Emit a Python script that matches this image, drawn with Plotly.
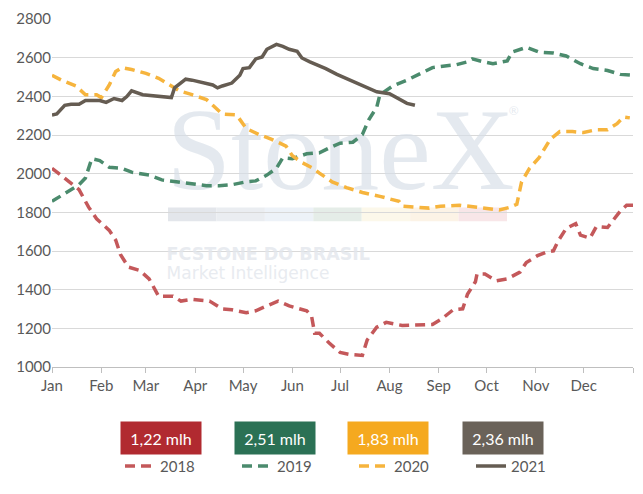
import pandas as pd
import plotly.graph_objects as go

# dias a partir de 1 de janeiro / valores
dias_2018 = [0, 9, 17, 21, 23, 28, 36, 40, 43, 48, 55, 61, 67, 76, 81, 88, 99, 107, 113, 122, 128, 135,
             142, 149, 160, 163, 165, 168, 174, 181, 187, 195, 198, 204, 210, 220, 231, 239, 245, 252,
             258, 261, 266, 267, 272, 279, 286, 294, 298, 305, 311, 315, 318, 323, 329, 332, 338, 342,
             349, 352, 357, 361, 365]
val_2018 = [2028, 1968, 1918, 1857, 1827, 1767, 1707, 1657, 1582, 1517, 1500, 1456, 1366, 1366, 1341,
            1350, 1341, 1300, 1296, 1281, 1291, 1316, 1341, 1316, 1291, 1266, 1175, 1175, 1125, 1075,
            1065, 1060, 1140, 1206, 1231, 1215, 1220, 1220, 1250, 1296, 1301, 1376, 1441, 1481, 1481,
            1446, 1456, 1491, 1541, 1576, 1596, 1601, 1652, 1717, 1742, 1682, 1667, 1727, 1722, 1752,
            1807, 1837, 1837]

dias_2019 = [0, 9, 17, 21, 25, 30, 36, 44, 50, 61, 69, 78, 88, 97, 105, 113, 122, 128, 135, 141, 145,
             151, 160, 168, 174, 181, 189, 195, 199, 204, 206, 214, 223, 231, 239, 248, 254, 261, 264,
             271, 277, 286, 289, 298, 306, 315, 323, 332, 340, 349, 357, 365]
val_2019 = [1857, 1902, 1943, 1978, 2078, 2068, 2033, 2028, 2008, 1993, 1968, 1958, 1948, 1938, 1938,
            1943, 1958, 1963, 1993, 2028, 2083, 2078, 2103, 2108, 2133, 2158, 2163, 2203, 2279, 2344,
            2409, 2454, 2484, 2519, 2549, 2559, 2564, 2579, 2594, 2579, 2569, 2584, 2629, 2654, 2629,
            2624, 2609, 2569, 2544, 2534, 2514, 2509]

dias_2020 = [0, 6, 15, 21, 28, 31, 36, 40, 44, 50, 59, 67, 74, 80, 88, 97, 101, 107, 116, 122, 130,
             138, 147, 151, 157, 164, 168, 176, 185, 195, 206, 218, 220, 229, 237, 244, 256, 267, 281,
             288, 292, 295, 300, 306, 313, 319, 327, 334, 342, 349, 355, 359, 363]
val_2020 = [2509, 2484, 2454, 2409, 2409, 2394, 2459, 2529, 2549, 2539, 2519, 2494, 2459, 2429, 2409,
            2384, 2354, 2309, 2304, 2234, 2203, 2178, 2143, 2093, 2058, 2028, 2003, 1958, 1928, 1903,
            1883, 1857, 1832, 1827, 1822, 1832, 1837, 1827, 1812, 1827, 1842, 1958, 2028, 2083, 2178,
            2218, 2218, 2213, 2228, 2228, 2259, 2294, 2289]

dias_2021 = [0, 3, 8, 12, 17, 21, 30, 34, 39, 44, 47, 50, 57, 65, 72, 75, 77, 81, 84, 88, 93, 101, 104,
             107, 113, 118, 120, 124, 128, 132, 135, 141, 145, 149, 154, 157, 162, 168, 172, 179, 187,
             195, 204, 212, 218, 223, 228]
val_2021 = [2304, 2309, 2354, 2359, 2359, 2379, 2379, 2369, 2389, 2379, 2399, 2429, 2409, 2404, 2399,
            2394, 2444, 2469, 2489, 2484, 2474, 2459, 2444, 2454, 2469, 2509, 2544, 2549, 2594, 2604,
            2644, 2669, 2659, 2644, 2634, 2599, 2579, 2559, 2544, 2514, 2484, 2454, 2424, 2414, 2384,
            2364, 2354]

meses = ['Jan', 'Feb', 'Mar', 'Apr', 'May', 'Jun', 'Jul', 'Aug', 'Sep', 'Oct', 'Nov', 'Dec']
caixas = ['1,22 mlh', '2,51 mlh', '1,83 mlh', '2,36 mlh']

base = pd.Timestamp('2021-01-01')


def datas(dias):
    return [base + pd.Timedelta(days=d) for d in dias]


fig = go.Figure()

# marca d'água (atrás das linhas)
cinza_wm = 'rgba(214,221,231,0.65)'
x_wm = base + pd.Timedelta(days=72)
fig.add_trace(go.Scatter(x=[x_wm], y=[2072], mode='text', text=['StoneX'],
                         textposition='middle right', showlegend=False, hoverinfo='skip',
                         textfont=dict(family='Liberation Serif', size=116, color=cinza_wm)))
fig.add_trace(go.Scatter(x=[x_wm], y=[1575], mode='text',
                         text=['<b>FCSTONE DO BRASIL</b>'], textposition='middle right',
                         showlegend=False, hoverinfo='skip',
                         textfont=dict(family='DejaVu Sans', size=17.5, color='rgba(226,230,236,0.8)')))
fig.add_trace(go.Scatter(x=[x_wm], y=[1478], mode='text',
                         text=['Market Intelligence'], textposition='middle right',
                         showlegend=False, hoverinfo='skip',
                         textfont=dict(family='DejaVu Sans', size=17, color='rgba(226,230,236,0.8)')))
fig.add_trace(go.Scatter(x=[base + pd.Timedelta(days=290)], y=[2320], mode='text',
                         text=['®'], textposition='middle center', showlegend=False, hoverinfo='skip',
                         textfont=dict(family='Lato', size=12, color=cinza_wm)))

series = [
    ('2018', dias_2018, val_2018, '#c4585a', '10px,6px'),
    ('2019', dias_2019, val_2019, '#4b8b6d', '10px,6px'),
    ('2020', dias_2020, val_2020, '#f6b43d', '10px,6px'),
    ('2021', dias_2021, val_2021, '#655c52', 'solid'),
]
for nome, d, v, cor, traco in series:
    fig.add_trace(go.Scatter(x=datas(d), y=v, mode='lines', name=nome,
                             line=dict(color=cor, width=3.5, dash=traco)))

# faixa colorida da marca d'água
faixa = ['#e3e6eb', '#eaedf1', '#edf2f8', '#e5ede8', '#fcf8ea', '#fcf3e6', '#f8e6e8']
x0 = (168 - 52) / 581
larg = (507 - 168) / 581 / len(faixa)
for i, c in enumerate(faixa):
    fig.add_shape(type='rect', xref='paper', yref='paper', x0=x0 + i * larg, x1=x0 + (i + 1) * larg,
                  y0=(367 - 217) / 358, y1=(367 - 203) / 358, fillcolor=c, line_width=0, layer='below')

# caixas com os valores
cores_caixa = ['#b12a30', '#2b7155', '#f5a91f', '#6a6259']
centros = [161, 275, 388, 503]
for txt, cor, cx in zip(caixas, cores_caixa, centros):
    fig.add_annotation(x=(cx - 52) / 581, y=(367 - 440) / 358, xref='paper', yref='paper',
                       xanchor='center', yanchor='middle',
                       text=txt, showarrow=False, bgcolor=cor, width=78, height=30,
                       font=dict(family='Lato', size=16, color='white'))

tickvals = [base + pd.DateOffset(months=m) for m in range(13)]
fig.update_xaxes(range=[base, base + pd.DateOffset(months=12)], tickvals=tickvals,
                 ticktext=meses + [''], showgrid=False, showline=True, linecolor='#bfbfbf',
                 ticks='outside', ticklen=5, tickcolor='#bfbfbf',
                 tickfont=dict(family='Lato', size=15, color='#595959'))
fig.update_yaxes(range=[1000, 2800.5], dtick=200, tick0=1000, showgrid=True, gridcolor='#d9d9d9',
                 zeroline=False, ticklabeloverflow='allow',
                 tickfont=dict(family='Lato', size=15, color='#595959'))

fig.update_layout(
    width=643, height=494,
    margin=dict(l=52, r=10, t=9, b=127),
    paper_bgcolor='white', plot_bgcolor='white',
    showlegend=True,
    legend=dict(orientation='h', x=(120 - 52) / 581, y=(367 - 469) / 358, xanchor='left',
                yanchor='middle', entrywidth=72, entrywidthmode='pixels', traceorder='normal',
                font=dict(family='Lato', size=15, color='#595959')),
)

fig.write_html('out.html', config={'displayModeBar': False},
               post_script="document.body.style.margin='0';")
